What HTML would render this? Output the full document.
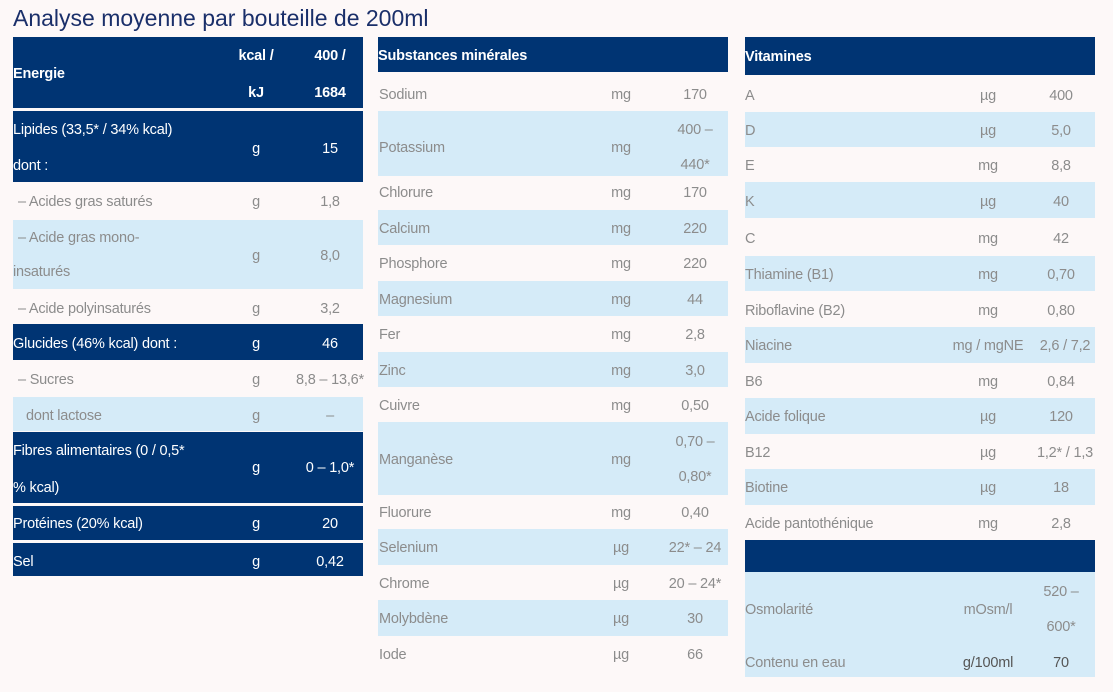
<!DOCTYPE html>
<html><head><meta charset="utf-8"><style>
body{margin:0;width:1113px;height:692px;background:#fdf8f8;position:relative;overflow:hidden;font-family:"Liberation Sans",sans-serif;font-size:14.5px;color:#8c8c8c;letter-spacing:-0.2px}
.r{position:absolute;}
.d{background:#003473;color:#fff}
.b{background:#d5ebf8}
.t{position:absolute;white-space:nowrap;transform:translateY(-50%)}
.c{transform:translate(-50%,-50%)}
.h{font-weight:bold}
h1{position:absolute;left:13px;top:5px;margin:0;font-weight:normal;font-size:23px;color:#1a2f6a;letter-spacing:0}
</style></head><body>
<h1>Analyse moyenne par bouteille de 200ml</h1>

<!-- left table -->
<div class="r d" style="left:13px;top:37px;width:350px;height:71px"></div>
<div class="r d" style="left:13px;top:111px;width:350px;height:71px"></div>
<div class="r b" style="left:13px;top:220px;width:350px;height:69px"></div>
<div class="r d" style="left:13px;top:324px;width:350px;height:36px"></div>
<div class="r b" style="left:13px;top:397px;width:350px;height:34px"></div>
<div class="r d" style="left:13px;top:432px;width:350px;height:71px"></div>
<div class="r d" style="left:13px;top:506px;width:350px;height:34px"></div>
<div class="r d" style="left:13px;top:543px;width:350px;height:33px"></div>

<div class="t h" style="left:13px;top:74px;color:#fff">Energie</div>
<div class="t c h" style="left:256px;top:56px;color:#fff">kcal /</div>
<div class="t c h" style="left:256px;top:93px;color:#fff">kJ</div>
<div class="t c h" style="left:330px;top:56px;color:#fff">400 /</div>
<div class="t c h" style="left:330px;top:93px;color:#fff">1684</div>
<div class="t" style="left:13px;top:130px;color:#fff">Lipides (33,5* / 34% kcal)</div>
<div class="t" style="left:13px;top:166px;color:#fff">dont :</div>
<div class="t c" style="left:256px;top:149px;color:#fff">g</div>
<div class="t c" style="left:330px;top:149px;color:#fff">15</div>
<div class="t" style="left:18px;top:202px">– Acides gras saturés</div>
<div class="t c" style="left:256px;top:202px">g</div>
<div class="t c" style="left:330px;top:202px">1,8</div>
<div class="t" style="left:18px;top:238px">– Acide gras mono-</div>
<div class="t" style="left:13px;top:272px">insaturés</div>
<div class="t c" style="left:256px;top:256px">g</div>
<div class="t c" style="left:330px;top:256px">8,0</div>
<div class="t" style="left:18px;top:309px">– Acide polyinsaturés</div>
<div class="t c" style="left:256px;top:309px">g</div>
<div class="t c" style="left:330px;top:309px">3,2</div>
<div class="t" style="left:13px;top:344px;color:#fff">Glucides (46% kcal) dont :</div>
<div class="t c" style="left:256px;top:344px;color:#fff">g</div>
<div class="t c" style="left:330px;top:344px;color:#fff">46</div>
<div class="t" style="left:18px;top:380px">– Sucres</div>
<div class="t c" style="left:256px;top:380px">g</div>
<div class="t c" style="left:330px;top:380px">8,8 – 13,6*</div>
<div class="t" style="left:26px;top:416px">dont lactose</div>
<div class="t c" style="left:256px;top:416px">g</div>
<div class="t c" style="left:330px;top:416px">–</div>
<div class="t" style="left:13px;top:451px;color:#fff">Fibres alimentaires  (0 / 0,5*</div>
<div class="t" style="left:13px;top:488px;color:#fff">% kcal)</div>
<div class="t c" style="left:256px;top:468px;color:#fff">g</div>
<div class="t c" style="left:330px;top:468px;color:#fff">0 – 1,0*</div>
<div class="t" style="left:13px;top:524px;color:#fff">Protéines (20% kcal)</div>
<div class="t c" style="left:256px;top:524px;color:#fff">g</div>
<div class="t c" style="left:330px;top:524px;color:#fff">20</div>
<div class="t" style="left:13px;top:562px;color:#fff">Sel</div>
<div class="t c" style="left:256px;top:562px;color:#fff">g</div>
<div class="t c" style="left:330px;top:562px;color:#fff">0,42</div>

<!-- middle table -->
<div class="r d" style="left:378px;top:37px;width:350px;height:35px"></div>
<div class="t h" style="left:378px;top:56px;color:#fff">Substances minérales</div>
<div class="r b" style="left:378px;top:111px;width:350px;height:65px"></div>
<div class="r b" style="left:378px;top:210px;width:350px;height:35px"></div>
<div class="r b" style="left:378px;top:281px;width:350px;height:35px"></div>
<div class="r b" style="left:378px;top:352px;width:350px;height:35px"></div>
<div class="r b" style="left:378px;top:422px;width:350px;height:73px"></div>
<div class="r b" style="left:378px;top:529px;width:350px;height:36px"></div>
<div class="r b" style="left:378px;top:600px;width:350px;height:36px"></div>

<div class="t" style="left:379px;top:95px">Sodium</div><div class="t c" style="left:621px;top:95px">mg</div><div class="t c" style="left:695px;top:95px">170</div>
<div class="t" style="left:379px;top:148px">Potassium</div><div class="t c" style="left:621px;top:148px">mg</div><div class="t c" style="left:695px;top:130px">400 –</div><div class="t c" style="left:695px;top:165px">440*</div>
<div class="t" style="left:379px;top:193px">Chlorure</div><div class="t c" style="left:621px;top:193px">mg</div><div class="t c" style="left:695px;top:193px">170</div>
<div class="t" style="left:379px;top:229px">Calcium</div><div class="t c" style="left:621px;top:229px">mg</div><div class="t c" style="left:695px;top:229px">220</div>
<div class="t" style="left:379px;top:264px">Phosphore</div><div class="t c" style="left:621px;top:264px">mg</div><div class="t c" style="left:695px;top:264px">220</div>
<div class="t" style="left:379px;top:300px">Magnesium</div><div class="t c" style="left:621px;top:300px">mg</div><div class="t c" style="left:695px;top:300px">44</div>
<div class="t" style="left:379px;top:335px">Fer</div><div class="t c" style="left:621px;top:335px">mg</div><div class="t c" style="left:695px;top:335px">2,8</div>
<div class="t" style="left:379px;top:371px">Zinc</div><div class="t c" style="left:621px;top:371px">mg</div><div class="t c" style="left:695px;top:371px">3,0</div>
<div class="t" style="left:379px;top:406px">Cuivre</div><div class="t c" style="left:621px;top:406px">mg</div><div class="t c" style="left:695px;top:406px">0,50</div>
<div class="t" style="left:379px;top:460px">Manganèse</div><div class="t c" style="left:621px;top:460px">mg</div><div class="t c" style="left:695px;top:442px">0,70 –</div><div class="t c" style="left:695px;top:477px">0,80*</div>
<div class="t" style="left:379px;top:513px">Fluorure</div><div class="t c" style="left:621px;top:513px">mg</div><div class="t c" style="left:695px;top:513px">0,40</div>
<div class="t" style="left:379px;top:548px">Selenium</div><div class="t c" style="left:621px;top:548px">µg</div><div class="t c" style="left:695px;top:548px">22* – 24</div>
<div class="t" style="left:379px;top:584px">Chrome</div><div class="t c" style="left:621px;top:584px">µg</div><div class="t c" style="left:695px;top:584px">20 – 24*</div>
<div class="t" style="left:379px;top:619px">Molybdène</div><div class="t c" style="left:621px;top:619px">µg</div><div class="t c" style="left:695px;top:619px">30</div>
<div class="t" style="left:379px;top:655px">Iode</div><div class="t c" style="left:621px;top:655px">µg</div><div class="t c" style="left:695px;top:655px">66</div>

<!-- right table -->
<div class="r d" style="left:745px;top:37px;width:350px;height:38px"></div>
<div class="t h" style="left:745px;top:57px;color:#fff">Vitamines</div>
<div class="r b" style="left:745px;top:112px;width:350px;height:35px"></div>
<div class="r b" style="left:745px;top:182px;width:350px;height:36px"></div>
<div class="r b" style="left:745px;top:256px;width:350px;height:35px"></div>
<div class="r b" style="left:745px;top:327px;width:350px;height:36px"></div>
<div class="r b" style="left:745px;top:398px;width:350px;height:36px"></div>
<div class="r b" style="left:745px;top:469px;width:350px;height:36px"></div>
<div class="r d" style="left:745px;top:540px;width:350px;height:32px"></div>
<div class="r b" style="left:745px;top:572px;width:350px;height:105px"></div>

<div class="t" style="left:745px;top:96px">A</div><div class="t c" style="left:988px;top:96px">µg</div><div class="t c" style="left:1061px;top:96px">400</div>
<div class="t" style="left:745px;top:131px">D</div><div class="t c" style="left:988px;top:131px">µg</div><div class="t c" style="left:1061px;top:131px">5,0</div>
<div class="t" style="left:745px;top:166px">E</div><div class="t c" style="left:988px;top:166px">mg</div><div class="t c" style="left:1061px;top:166px">8,8</div>
<div class="t" style="left:745px;top:202px">K</div><div class="t c" style="left:988px;top:202px">µg</div><div class="t c" style="left:1061px;top:202px">40</div>
<div class="t" style="left:745px;top:239px">C</div><div class="t c" style="left:988px;top:239px">mg</div><div class="t c" style="left:1061px;top:239px">42</div>
<div class="t" style="left:745px;top:275px">Thiamine (B1)</div><div class="t c" style="left:988px;top:275px">mg</div><div class="t c" style="left:1061px;top:275px">0,70</div>
<div class="t" style="left:745px;top:311px">Riboflavine (B2)</div><div class="t c" style="left:988px;top:311px">mg</div><div class="t c" style="left:1061px;top:311px">0,80</div>
<div class="t" style="left:745px;top:346px">Niacine</div><div class="t c" style="left:988px;top:346px">mg / mgNE</div><div class="t c" style="left:1065px;top:346px">2,6 / 7,2</div>
<div class="t" style="left:745px;top:382px">B6</div><div class="t c" style="left:988px;top:382px">mg</div><div class="t c" style="left:1061px;top:382px">0,84</div>
<div class="t" style="left:745px;top:417px">Acide folique</div><div class="t c" style="left:988px;top:417px">µg</div><div class="t c" style="left:1061px;top:417px">120</div>
<div class="t" style="left:745px;top:453px">B12</div><div class="t c" style="left:988px;top:453px">µg</div><div class="t c" style="left:1065px;top:453px">1,2* / 1,3</div>
<div class="t" style="left:745px;top:488px">Biotine</div><div class="t c" style="left:988px;top:488px">µg</div><div class="t c" style="left:1061px;top:488px">18</div>
<div class="t" style="left:745px;top:524px">Acide pantothénique</div><div class="t c" style="left:988px;top:524px">mg</div><div class="t c" style="left:1061px;top:524px">2,8</div>
<div class="t" style="left:745px;top:610px">Osmolarité</div><div class="t c" style="left:988px;top:610px">mOsm/l</div><div class="t c" style="left:1061px;top:592px">520 –</div><div class="t c" style="left:1061px;top:627px">600*</div>
<div class="t" style="left:745px;top:663px">Contenu en eau</div><div class="t c" style="left:988px;top:663px;color:#555">g/100ml</div><div class="t c" style="left:1061px;top:663px;color:#555">70</div>
</body></html>
